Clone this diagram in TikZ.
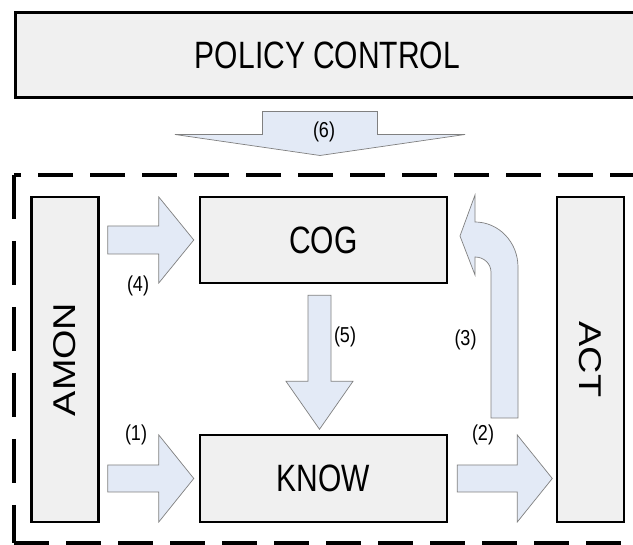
\documentclass[tikz,border=0pt]{standalone}
\usepackage{fontspec}
\setmainfont{Liberation Sans}
\usepackage{graphicx}
\usetikzlibrary{calc}
\definecolor{boxfill}{HTML}{F0F0F0}
\definecolor{arrowfill}{HTML}{E3EAF6}
\definecolor{arrowline}{HTML}{808080}

\begin{document}
\begin{tikzpicture}[x=1pt, y=1pt,
        box/.style={draw=black, fill=boxfill, line width=2.6pt, inner sep=0pt,
            font=\fontsize{30}{36}\selectfont},
        sidebox/.style={box, minimum width=67pt, minimum height=325pt,
            font=\fontsize{31.5}{36}\selectfont},
        midbox/.style={box, minimum width=247pt, minimum height=86pt},
        arrowshape/.style={fill=arrowfill, draw=arrowline, line width=0.7pt, line join=miter},
        num/.style={inner sep=0pt, font=\fontsize{18}{20}\selectfont},
        frameh/.style={line width=3.2pt, dash pattern=on 35pt off 17pt},
        framev/.style={line width=3.2pt, dash pattern=on 44pt off 22pt},
        pics/blockarrow/.style n args={4}{code={
            \path[arrowshape] (0,#2) -- ({#1-#4},#2) -- ({#1-#4},#3) -- (#1,0)
                -- ({#1-#4},-#3) -- ({#1-#4},-#2) -- (0,-#2) -- cycle;}},
    ]
    \path[use as bounding box, fill=white] (0,0) rectangle (633,545);
    % policy layer
    \node[box, line width=3pt, minimum width=625pt, minimum height=85pt] (policy) at (327.5,489.5)
        {\scalebox{1}[1.27]{POLICY CONTROL}};
    % dashed frame
    \draw[frameh] (645,370) -- (14,370);
    \draw[framev] (14,370) -- (14,2);
    \draw[frameh] (14,2) -- (645,2);
    % boxes
    \node[sidebox] (amon) at (65,185.5) {\rotatebox{90}{\scalebox{1.2}[1]{AMON}}};
    \node[sidebox] (act) at (590.5,185.5) {\rotatebox{-90}{\scalebox{1.2}[1]{ACT}}};
    \node[midbox] (cog) at (323.5,305) {\scalebox{1}[1.27]{COG}};
    \node[midbox, minimum height=87pt] (know) at (323.5,66.5) {\scalebox{1}[1.27]{KNOW}};
    % block arrows
    \pic[rotate=-90] at ($(policy.south)+(-7.5,-12)$) {blockarrow={44}{57.5}{145}{21}};
    \pic at ($(amon.east |- cog.west)+(8,0)$) {blockarrow={86}{14}{43}{35}};
    \pic at ($(amon.east |- know.west)+(8,0)$) {blockarrow={86}{13.5}{43.5}{35}};
    \pic at ($(know.east)+(9,0)$) {blockarrow={95}{13.5}{43.5}{35}};
    \pic[rotate=-90] at ($(cog.south)+(-4,-11)$) {blockarrow={134}{11.5}{33.5}{48}};
    % bent arrow back to COG
    \path[arrowshape] (518,127) -- (518,278) arc[start angle=0, end angle=90, x radius=43, y radius=45]
        -- (475,350) -- (460,309) -- (475,270) -- (475,288)
        arc[start angle=90, end angle=0, x radius=16, y radius=15] -- (491,127) -- cycle;
    % numbers
    \node[num] (n1) at (136,110) {\scalebox{1}[1.2]{(1)}};
    \node[num] (n2) at (483,110) {\scalebox{1}[1.2]{(2)}};
    \node[num] (n3) at (465.5,205) {\scalebox{1}[1.2]{(3)}};
    \node[num] (n4) at (138,259) {\scalebox{1}[1.2]{(4)}};
    \node[num] (n5) at (345,208) {\scalebox{1}[1.2]{(5)}};
    \node[num] (n6) at (324,413) {\scalebox{1}[1.2]{(6)}};
\end{tikzpicture}
\end{document}
